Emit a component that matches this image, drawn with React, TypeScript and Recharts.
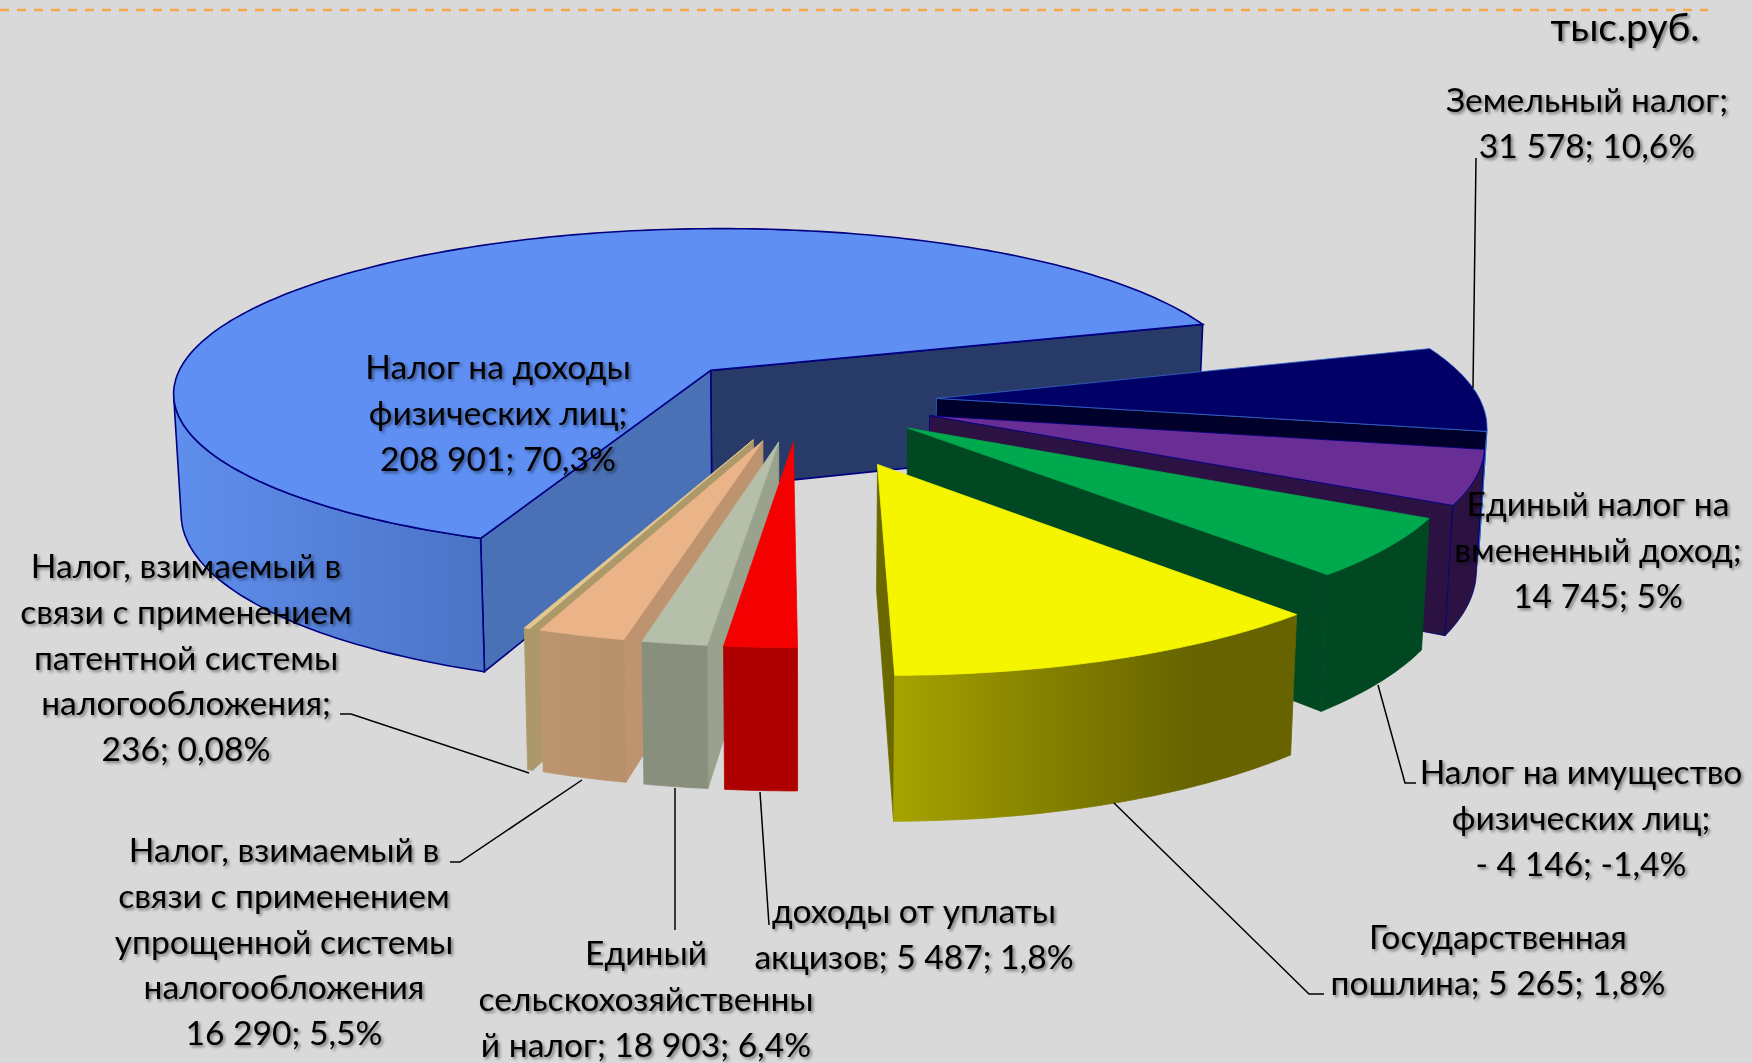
import { Pie, PieChart } from "recharts"

// labels as printed in the picture
const sliceNames = [
  "Налог на доходы физических лиц",
  "Земельный налог",
  "Единый налог на вмененный доход",
  "Налог на имущество физических лиц",
  "Государственная пошлина",
  "доходы от уплаты акцизов",
  "Единый сельскохозяйственный налог",
  "Налог, взимаемый в связи с применением упрощенной системы налогообложения",
  "Налог, взимаемый в связи с применением патентной системы налогообложения",
]
const labelLines = [
  ["Налог на доходы", "физических лиц;", "208 901; 70,3%"],
  ["Земельный налог;", "31 578; 10,6%"],
  ["Единый налог на", "вмененный доход;", "14 745; 5%"],
  ["Налог на имущество", "физических лиц;", "- 4 146; -1,4%"],
  ["Государственная", "пошлина; 5 265; 1,8%"],
  ["доходы от уплаты", "акцизов; 5 487; 1,8%"],
  ["Единый", "сельскохозяйственны", "й налог; 18 903; 6,4%"],
  ["Налог, взимаемый в", "связи с применением", "упрощенной системы", "налогообложения", "16 290; 5,5%"],
  ["Налог, взимаемый в", "связи с применением", "патентной системы", "налогообложения;", "236; 0,08%"],
]
// size of each slice as drawn (the picture does not follow its own labels)
const drawnShares = [64.25, 7.8, 4.9, 5.4, 11.6, 1.9, 1.7, 2.3, 0.15]

// back to front, the narrow front slices need left before right
const paintOrder = [0, 1, 2, 3, 4, 8, 7, 6, 5]

// styles, same order as the slices
const explodes = [134, 137, 136, 134, 203, 126, 126, 126, 126]
const radiusScales = [1.015, 1.015, 1.01, 1, 0.98, 0.975, 0.975, 0.975, 0.975]
const depthScales = [0.96, 1, 1, 1, 0.99, 1, 1, 1, 1]
const topColors = ["#5F8FF3", "#000066", "#692E95", "#00A84E", "#F5F500", "#F50000", "#B5BFA9", "#EAB488", "#E3C88E"]
const sideStartColors = ["#4A70B6", "#00002A", "#2C1242", "#00491F", "#6B6800", "#AE0000", "#98A28D", "#BD946F", "#AC9868"]
const sideEndColors = ["#283B68", "#00002A", "#2C1242", "#004822", "#6B6800", "#AE0000", "#98A28D", "#BD946F", "#AC9868"]
const wallStops = [
  ["#5F8EEC", "#4B74C6"],
  ["#00002A", "#00002A"],
  ["#2C1242", "#2C1242"],
  ["#004822", "#004822"],
  ["#A6A300", "#8F8C00", "#7A7700", "#666300", "#666300"],
  ["#AE0000", "#AE0000"],
  ["#888F7C", "#888F7C"],
  ["#BB9470", "#B8906C"],
  ["#AC9868", "#AC9868"],
]
const strokes = ["#000080", "#3366CC", "#000080", "", "", "", "", "", ""]

// label layout: centre x, first baseline, leader line
const labelCenters = [
  [498, 379], [1587, 112], [1598, 516], [1581, 784], [1498, 949], [914, 923], [646, 965], [284, 862], [186, 578],
]
const leaders = [
  [],
  [[1476, 158], [1473, 388]],
  [],
  [[1378, 685], [1405, 783], [1416, 783]],
  [[1114, 803], [1309, 994], [1324, 994]],
  [[760, 792], [769, 925]],
  [[675, 788], [675, 930]],
  [[582, 780], [460, 862], [450, 862]],
  [[529, 773], [351, 714], [340, 714]],
]

const data = sliceNames.map((name, idx) => ({ name, idx, share: drawnShares[idx] }))

// camera of the 3D view
const DIST = 4100
const HORIZON = -911
const DEPTH = 0.092
const LEAN = 0.012
const rad = Math.PI / 180
const FONT = "Lato, Roboto, sans-serif"
const SHADOW = "drop-shadow(2px 2px 1.5px rgba(0,0,0,0.45))"

function SliceShape(props: any) {
  const { cx, cy, startAngle, endAngle, idx } = props
  const r = props.outerRadius * radiusScales[idx]
  const ry = r * depthScales[idx]
  const mid = ((startAngle + endAngle) / 2) * rad
  const cX = Math.cos(mid) * explodes[idx]
  const cY = Math.sin(mid) * explodes[idx]

  const top = (X: number, Y: number) => {
    const s = DIST / (DIST + Y)
    return [cx + X * s, HORIZON + (cy - HORIZON) * s]
  }
  const low = (p: number[]) => [cx + (p[0] - cx) * (1 - LEAN), p[1] + (p[1] - HORIZON) * DEPTH]
  const rim = (a: number) => top(cX + r * Math.cos(a * rad), cY + ry * Math.sin(a * rad))
  const d = (pts: number[][]) => "M" + pts.map((p) => p[0].toFixed(1) + "," + p[1].toFixed(1)).join("L") + "Z"

  const steps = Math.ceil(Math.abs(startAngle - endAngle)) + 1
  const angles = Array.from({ length: steps + 1 }, (_, i) => startAngle + ((endAngle - startAngle) * i) / steps)
  const hub = top(cX, cY)
  const rimPts = angles.map(rim)

  // which faces look at the camera
  const camX = -cX
  const camY = -DIST - cY
  const seen = angles.filter((a) => camX * Math.cos(a * rad) + camY * Math.sin(a * rad) - r > 0)
  const wallTop = seen.map(rim)
  const wallLow = wallTop.map(low).reverse()
  const a0 = startAngle * rad
  const a1 = endAngle * rad
  const showStart = -Math.sin(a0) * camX + Math.cos(a0) * camY > 0
  const showEnd = Math.sin(a1) * camX - Math.cos(a1) * camY > 0
  const xs = wallTop.map((p) => p[0])
  const stops = wallStops[idx]
  const sw = idx === 0 ? 1.6 : 0.8
  const line = (fill: string) => strokes[idx] || fill
  const wallFill = "url(#wall" + idx + ")"

  return (
    <g>
      {xs.length > 1 && (
        <defs>
          <linearGradient id={"wall" + idx} gradientUnits="userSpaceOnUse" x1={Math.min(...xs)} x2={Math.max(...xs)} y1={0} y2={0}>
            {stops.map((c, i) => (
              <stop key={i} offset={i / (stops.length - 1)} stopColor={c} />
            ))}
          </linearGradient>
        </defs>
      )}
      {showEnd && (
        <path d={d([hub, rim(endAngle), low(rim(endAngle)), low(hub)])} fill={sideEndColors[idx]} stroke={line(sideEndColors[idx])} strokeWidth={sw} />
      )}
      {showStart && (
        <path d={d([hub, rim(startAngle), low(rim(startAngle)), low(hub)])} fill={sideStartColors[idx]} stroke={line(sideStartColors[idx])} strokeWidth={sw} />
      )}
      {xs.length > 1 && <path d={d([...wallTop, ...wallLow])} fill={wallFill} stroke={line(wallFill)} strokeWidth={sw} />}
      <path d={d([hub, ...rimPts])} fill={topColors[idx]} stroke={line(topColors[idx])} strokeWidth={sw} />
    </g>
  )
}

function SliceLabel(props: any) {
  const idx = props.index ?? 0
  const [x, y] = labelCenters[idx]
  const line = leaders[idx]
  return (
    <g>
      {line.length > 0 && (
        <polyline points={line.map((p) => p.join(",")).join(" ")} fill="none" stroke="#000" strokeWidth={1.5} />
      )}
      <text x={x} y={y} textAnchor="middle" fontFamily={FONT} fontSize={33.6} fill="#000" style={{ filter: SHADOW }}>
        {labelLines[idx].map((t, i) => (
          <tspan key={i} x={x} y={y + i * 45.8}>
            {t}
          </tspan>
        ))}
      </text>
    </g>
  )
}

export default function App() {
  return (
    <div style={{ position: "fixed", left: 0, top: 0, width: 1752, height: 1063, background: "#D9D9D9", overflow: "hidden" }}>
      <PieChart width={1752} height={1063} margin={{ top: 0, right: 0, bottom: 0, left: 0 }}>
        <line x1={0} y1={10} x2={1708} y2={10} stroke="#F9A646" strokeWidth={2.5} strokeDasharray="9 8" />
        <text x={1625} y={41} textAnchor="middle" fontFamily={FONT} fontSize={39} fill="#000" style={{ filter: SHADOW }}>
          тыс.руб.
        </text>
        {paintOrder.map((k, n) => {
          const only = (p: any) => {
            const idx = p.idx ?? p.payload?.idx
            return idx === k ? <SliceShape {...p} idx={idx} /> : <g />
          }
          const last = n === paintOrder.length - 1
          return (
            <Pie
              key={k}
              data={data}
              dataKey="share"
              nameKey="name"
              cx={800}
              cy={401}
              innerRadius={0}
              outerRadius={536}
              startAngle={248.7}
              endAngle={-111.3}
              stroke="none"
              isAnimationActive={false}
              shape={only}
              inactiveShape={only}
              activeShape={only}
              label={last ? SliceLabel : false}
              labelLine={false}
            />
          )
        })}
      </PieChart>
    </div>
  )
}
